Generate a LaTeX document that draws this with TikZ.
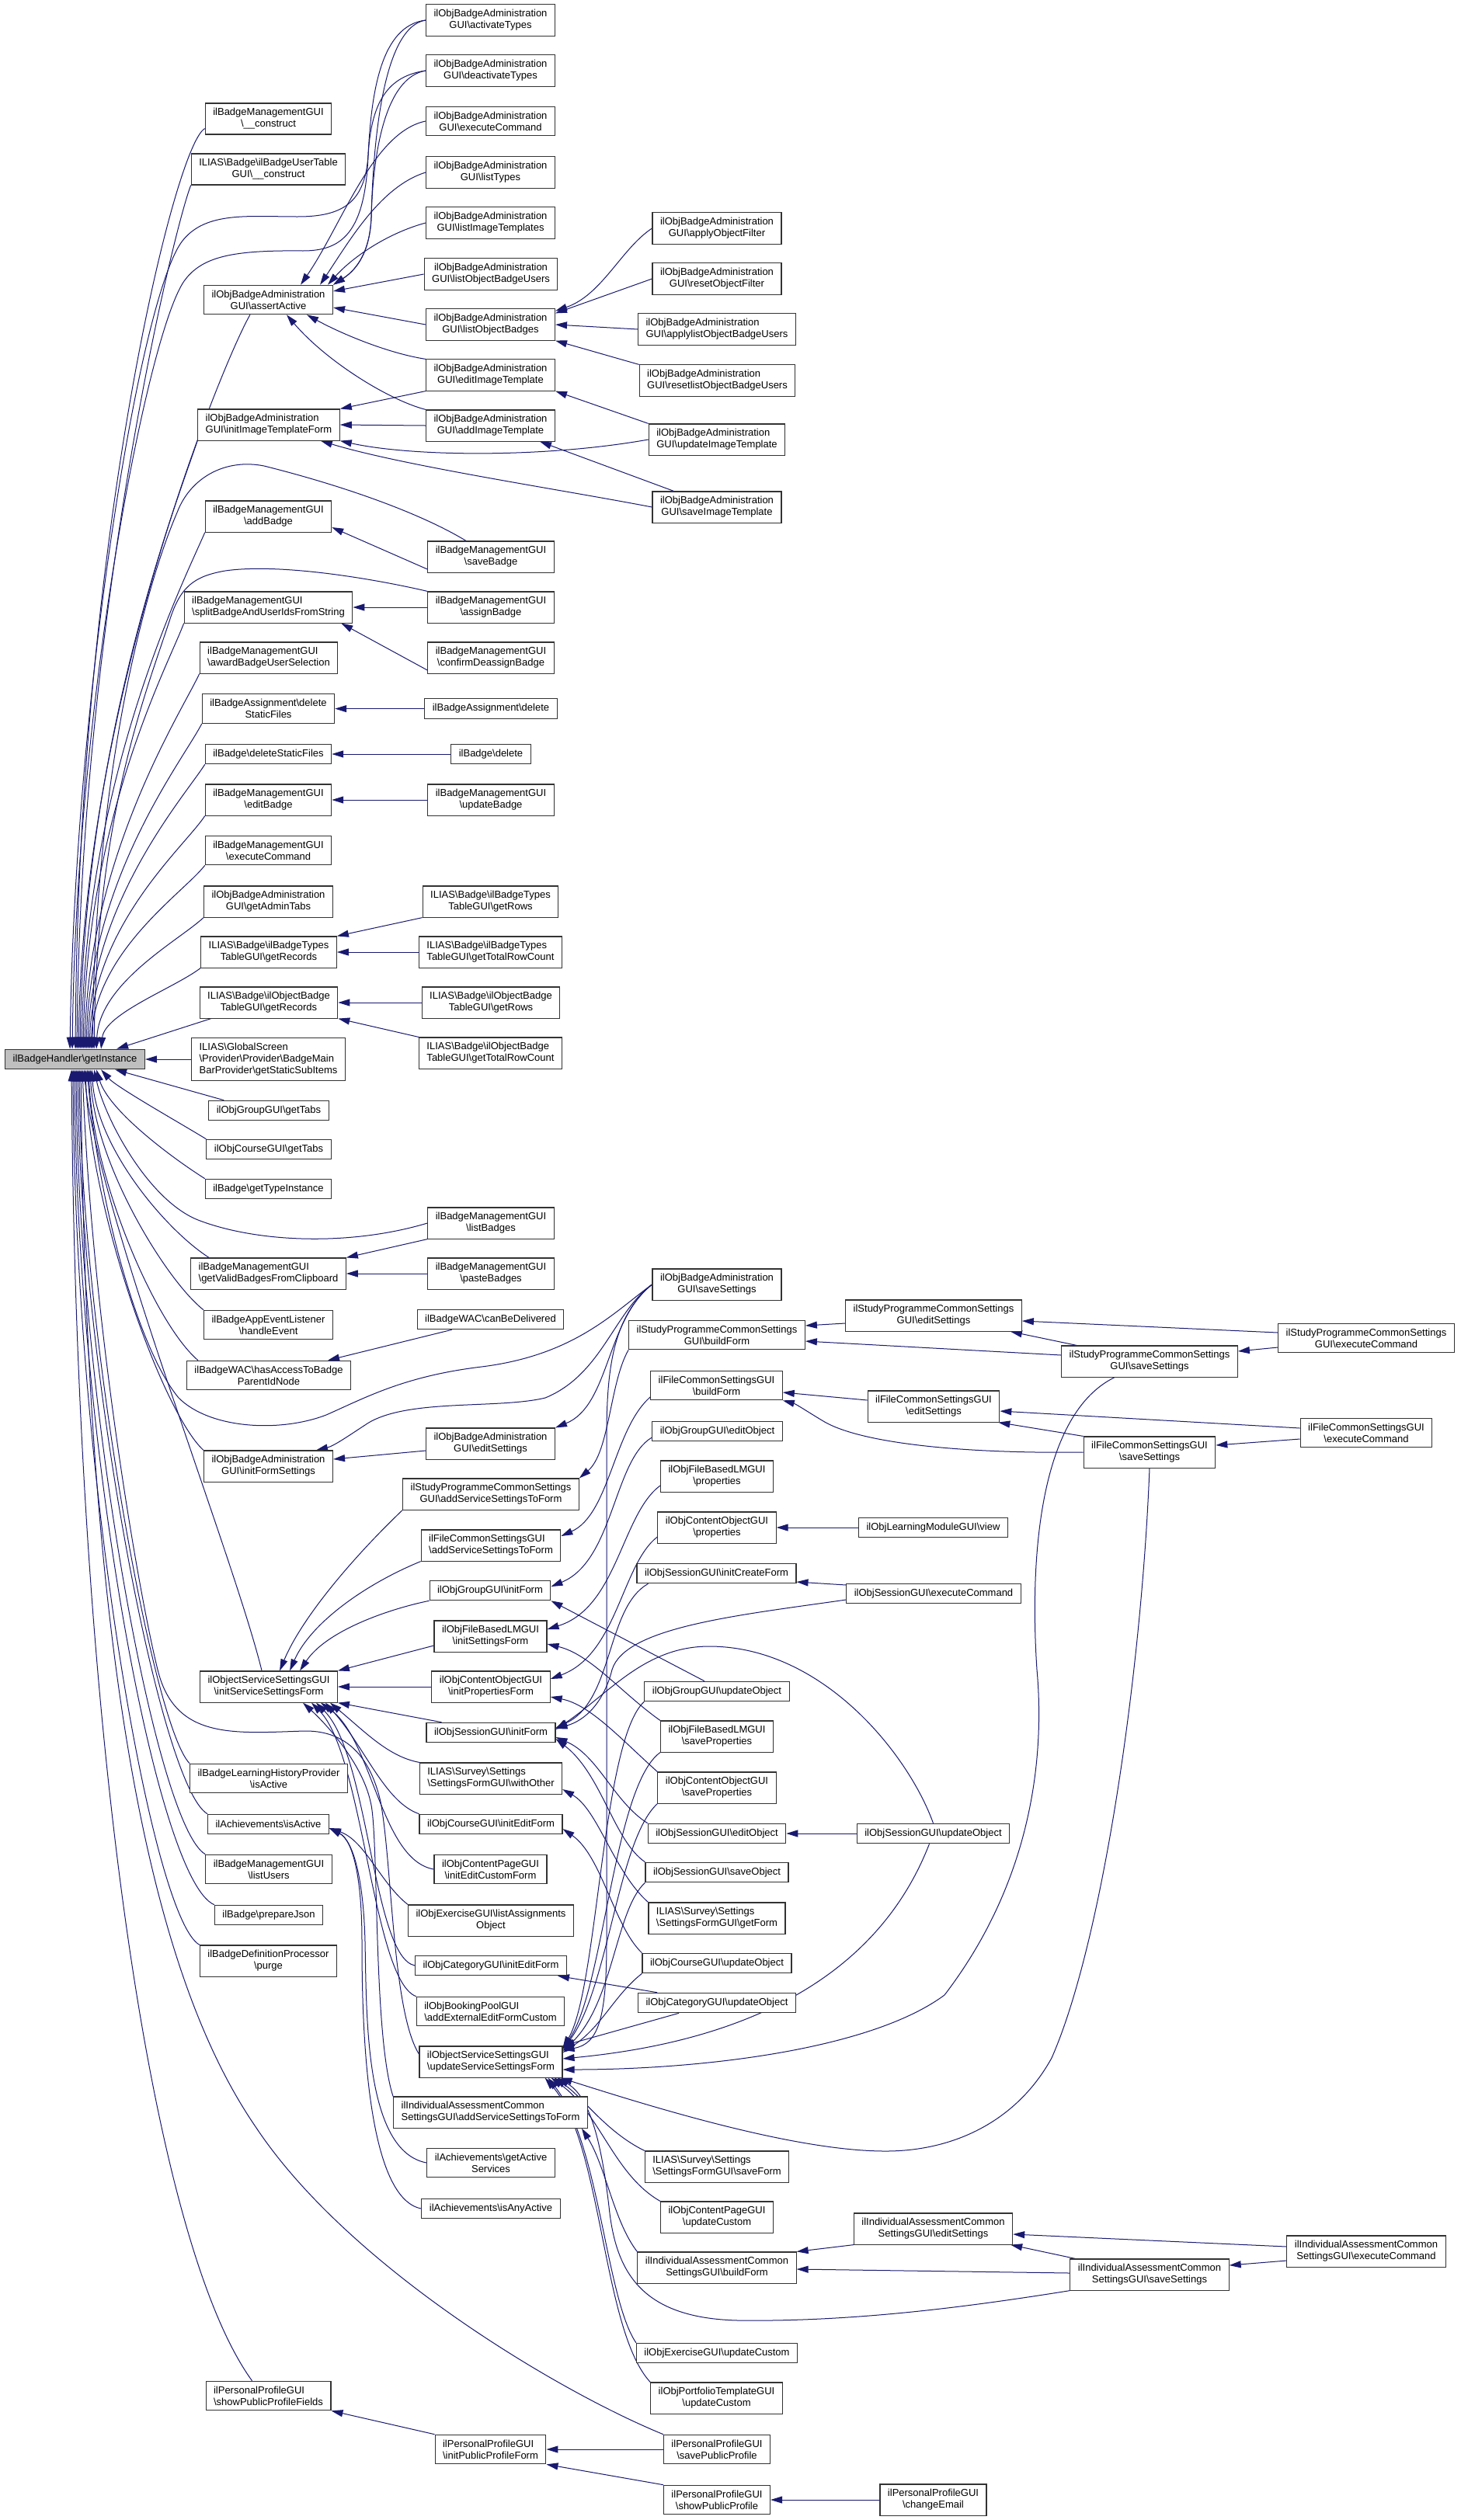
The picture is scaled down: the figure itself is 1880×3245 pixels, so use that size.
\documentclass[tikz,border=0pt]{standalone}
\usepackage{fontspec}
\setmainfont{Liberation Sans}
\usetikzlibrary{arrows.meta}
\pgfdeclarelayer{background}
\pgfsetlayers{background,main}
\definecolor{edgeblue}{RGB}{25,25,112}
\definecolor{nodegray}{RGB}{191,191,191}
\newcommand{\bsl}{\textbackslash}
\begin{document}
\begin{tikzpicture}[x=1pt,y=-1pt,
  fn/.style={draw=black!80, line width=1.1pt, fill=white, font=\fontsize{13pt}{15pt}\selectfont,
    inner xsep=10pt, inner ysep=6.5pt, minimum height=25.5pt, align=center},
  lft/.style={align=left},
  calls/.style={draw=edgeblue, line width=1pt, -{Triangle[length=15pt,width=9pt]}}]
\useasboundingbox (0,0) rectangle (1880,3245);

% column 0
\node[fn, fill=nodegray] (gi) at (96.5,1364) {ilBadgeHandler\bsl getInstance};

% column 1
\node[fn] (c1) at (345.5,153) {ilBadgeManagementGUI\\\bsl\_\_construct};
\node[fn] (c2) at (345.5,218) {ILIAS\bsl Badge\bsl ilBadgeUserTable\\GUI\bsl\_\_construct};
\node[fn] (c3) at (345.5,386) {ilObjBadgeAdministration\\GUI\bsl assertActive};
\node[fn,lft] (c4) at (346,547) {ilObjBadgeAdministration\\GUI\bsl initImageTemplateForm};
\node[fn] (c5) at (345.5,665) {ilBadgeManagementGUI\\\bsl addBadge};
\node[fn,lft] (c6) at (345.5,782) {ilBadgeManagementGUI\\\bsl splitBadgeAndUserIdsFromString};
\node[fn,lft] (c7) at (346,847) {ilBadgeManagementGUI\\\bsl awardBadgeUserSelection};
\node[fn] (c8) at (345.5,912.6) {ilBadgeAssignment\bsl delete\\StaticFiles};
\node[fn] (c9) at (345.5,971) {ilBadge\bsl deleteStaticFiles};
\node[fn] (c10) at (345.5,1030) {ilBadgeManagementGUI\\\bsl editBadge};
\node[fn] (c11) at (345.5,1095) {ilBadgeManagementGUI\\\bsl executeCommand};
\node[fn] (c12) at (345.5,1161) {ilObjBadgeAdministration\\GUI\bsl getAdminTabs};
\node[fn] (c13) at (346,1226) {ILIAS\bsl Badge\bsl ilBadgeTypes\\TableGUI\bsl getRecords};
\node[fn] (c14) at (346,1291) {ILIAS\bsl Badge\bsl ilObjectBadge\\TableGUI\bsl getRecords};
\node[fn,lft] (c15) at (345.5,1364) {ILIAS\bsl GlobalScreen\\\bsl Provider\bsl Provider\bsl BadgeMain\\BarProvider\bsl getStaticSubItems};
\node[fn] (c16) at (346,1430) {ilObjGroupGUI\bsl getTabs};
\node[fn] (c17) at (346,1480) {ilObjCourseGUI\bsl getTabs};
\node[fn] (c18) at (345.5,1531) {ilBadge\bsl getTypeInstance};
\node[fn,lft] (c19) at (345.5,1640) {ilBadgeManagementGUI\\\bsl getValidBadgesFromClipboard};
\node[fn] (c20) at (345.5,1706) {ilBadgeAppEventListener\\\bsl handleEvent};
\node[fn] (c21) at (346,1771) {ilBadgeWAC\bsl hasAccessToBadge\\ParentIdNode};
\node[fn] (c22) at (345.5,1888) {ilObjBadgeAdministration\\GUI\bsl initFormSettings};
\node[fn] (c23) at (346,2172) {ilObjectServiceSettingsGUI\\\bsl initServiceSettingsForm};
\node[fn] (c24) at (346,2290) {ilBadgeLearningHistoryProvider\\\bsl isActive};
\node[fn] (c25) at (345.5,2349) {ilAchievements\bsl isActive};
\node[fn] (c26) at (346,2407) {ilBadgeManagementGUI\\\bsl listUsers};
\node[fn] (c27) at (346,2466) {ilBadge\bsl prepareJson};
\node[fn] (c28) at (345.5,2525) {ilBadgeDefinitionProcessor\\\bsl purge};
\node[fn,lft] (c29) at (345.5,3085) {ilPersonalProfileGUI\\\bsl showPublicProfileFields};

% column 2
\node[fn] (d1) at (631.5,26) {ilObjBadgeAdministration\\GUI\bsl activateTypes};
\node[fn] (d2) at (631.5,91) {ilObjBadgeAdministration\\GUI\bsl deactivateTypes};
\node[fn] (d3) at (631.5,156) {ilObjBadgeAdministration\\GUI\bsl executeCommand};
\node[fn] (d4) at (631.5,222) {ilObjBadgeAdministration\\GUI\bsl listTypes};
\node[fn] (d5) at (631.5,287) {ilObjBadgeAdministration\\GUI\bsl listImageTemplates};
\node[fn] (d6) at (632,353) {ilObjBadgeAdministration\\GUI\bsl listObjectBadgeUsers};
\node[fn] (d7) at (631.5,418) {ilObjBadgeAdministration\\GUI\bsl listObjectBadges};
\node[fn] (d8) at (631.5,483) {ilObjBadgeAdministration\\GUI\bsl editImageTemplate};
\node[fn] (d9) at (631.5,548) {ilObjBadgeAdministration\\GUI\bsl addImageTemplate};
\node[fn] (d10) at (632,717) {ilBadgeManagementGUI\\\bsl saveBadge};
\node[fn] (d11) at (632,782) {ilBadgeManagementGUI\\\bsl assignBadge};
\node[fn] (d12) at (632,847) {ilBadgeManagementGUI\\\bsl confirmDeassignBadge};
\node[fn] (d13) at (632,912.6) {ilBadgeAssignment\bsl delete};
\node[fn] (d14) at (632,971) {ilBadge\bsl delete};
\node[fn] (d15) at (632,1030) {ilBadgeManagementGUI\\\bsl updateBadge};
\node[fn] (d16) at (631.5,1161) {ILIAS\bsl Badge\bsl ilBadgeTypes\\TableGUI\bsl getRows};
\node[fn,lft] (d17) at (631.5,1226) {ILIAS\bsl Badge\bsl ilBadgeTypes\\TableGUI\bsl getTotalRowCount};
\node[fn] (d18) at (632,1291) {ILIAS\bsl Badge\bsl ilObjectBadge\\TableGUI\bsl getRows};
\node[fn,lft] (d19) at (631.5,1356) {ILIAS\bsl Badge\bsl ilObjectBadge\\TableGUI\bsl getTotalRowCount};
\node[fn] (d20) at (632,1575) {ilBadgeManagementGUI\\\bsl listBadges};
\node[fn] (d21) at (632,1640) {ilBadgeManagementGUI\\\bsl pasteBadges};
\node[fn] (d22) at (631.5,1699) {ilBadgeWAC\bsl canBeDelivered};
\node[fn] (d23) at (631.5,1859) {ilObjBadgeAdministration\\GUI\bsl editSettings};
\node[fn] (d24) at (632,1924) {ilStudyProgrammeCommonSettings\\GUI\bsl addServiceSettingsToForm};
\node[fn,lft] (d25) at (632,1990) {ilFileCommonSettingsGUI\\\bsl addServiceSettingsToForm};
\node[fn] (d26) at (631,2048) {ilObjGroupGUI\bsl initForm};
\node[fn] (d27) at (631.5,2107) {ilObjFileBasedLMGUI\\\bsl initSettingsForm};
\node[fn] (d28) at (632,2172) {ilObjContentObjectGUI\\\bsl initPropertiesForm};
\node[fn] (d29) at (632,2231) {ilObjSessionGUI\bsl initForm};
\node[fn,lft] (d30) at (632,2290) {ILIAS\bsl Survey\bsl Settings\\\bsl SettingsFormGUI\bsl withOther};
\node[fn] (d31) at (632,2349) {ilObjCourseGUI\bsl initEditForm};
\node[fn] (d32) at (631.5,2407) {ilObjContentPageGUI\\\bsl initEditCustomForm};
\node[fn] (d33) at (632,2473) {ilObjExerciseGUI\bsl listAssignments\\Object};
\node[fn] (d34) at (632,2531) {ilObjCategoryGUI\bsl initEditForm};
\node[fn,lft] (d35) at (631.5,2590) {ilObjBookingPoolGUI\\\bsl addExternalEditFormCustom};
\node[fn,lft] (d36) at (632,2655) {ilObjectServiceSettingsGUI\\\bsl updateServiceSettingsForm};
\node[fn,lft] (d37) at (631.5,2720) {ilIndividualAssessmentCommon\\SettingsGUI\bsl addServiceSettingsToForm};
\node[fn] (d38) at (632,2785) {ilAchievements\bsl getActive\\Services};
\node[fn] (d39) at (632,2844) {ilAchievements\bsl isAnyActive};
\node[fn,lft] (d40) at (631.5,3154) {ilPersonalProfileGUI\\\bsl initPublicProfileForm};

% column 3
\node[fn] (e1) at (923,294) {ilObjBadgeAdministration\\GUI\bsl applyObjectFilter};
\node[fn] (e2) at (923,359) {ilObjBadgeAdministration\\GUI\bsl resetObjectFilter};
\node[fn,lft] (e3) at (923,424) {ilObjBadgeAdministration\\GUI\bsl applylistObjectBadgeUsers};
\node[fn,lft] (e4) at (923.5,490) {ilObjBadgeAdministration\\GUI\bsl resetlistObjectBadgeUsers};
\node[fn,lft] (e5) at (923,566) {ilObjBadgeAdministration\\GUI\bsl updateImageTemplate};
\node[fn] (e6) at (923,653) {ilObjBadgeAdministration\\GUI\bsl saveImageTemplate};
\node[fn] (e7) at (923,1654) {ilObjBadgeAdministration\\GUI\bsl saveSettings};
\node[fn] (e8) at (923,1719) {ilStudyProgrammeCommonSettings\\GUI\bsl buildForm};
\node[fn] (e9) at (922.5,1784) {ilFileCommonSettingsGUI\\\bsl buildForm};
\node[fn] (e10) at (923.5,1843) {ilObjGroupGUI\bsl editObject};
\node[fn] (e11) at (923,1901) {ilObjFileBasedLMGUI\\\bsl properties};
\node[fn] (e12) at (923,1967) {ilObjContentObjectGUI\\\bsl properties};
\node[fn] (e13) at (922.5,2026) {ilObjSessionGUI\bsl initCreateForm};
\node[fn] (e14) at (923,2178) {ilObjGroupGUI\bsl updateObject};
\node[fn] (e15) at (923,2236) {ilObjFileBasedLMGUI\\\bsl saveProperties};
\node[fn] (e16) at (923,2302) {ilObjContentObjectGUI\\\bsl saveProperties};
\node[fn] (e17) at (923,2361) {ilObjSessionGUI\bsl editObject};
\node[fn] (e18) at (923,2411) {ilObjSessionGUI\bsl saveObject};
\node[fn,lft] (e19) at (923,2470) {ILIAS\bsl Survey\bsl Settings\\\bsl SettingsFormGUI\bsl getForm};
\node[fn] (e20) at (923,2528) {ilObjCourseGUI\bsl updateObject};
\node[fn] (e21) at (923,2579) {ilObjCategoryGUI\bsl updateObject};
\node[fn,lft] (e22) at (923,2790) {ILIAS\bsl Survey\bsl Settings\\\bsl SettingsFormGUI\bsl saveForm};
\node[fn] (e23) at (923,2855) {ilObjContentPageGUI\\\bsl updateCustom};
\node[fn] (e24) at (923,2920) {ilIndividualAssessmentCommon\\SettingsGUI\bsl buildForm};
\node[fn] (e25) at (923,3030) {ilObjExerciseGUI\bsl updateCustom};
\node[fn] (e26) at (922.5,3088) {ilObjPortfolioTemplateGUI\\\bsl updateCustom};
\node[fn] (e27) at (923,3154) {ilPersonalProfileGUI\\\bsl savePublicProfile};
\node[fn] (e28) at (923,3219) {ilPersonalProfileGUI\\\bsl showPublicProfile};

% column 4
\node[fn] (f1) at (1202,1694) {ilStudyProgrammeCommonSettings\\GUI\bsl editSettings};
\node[fn] (f2) at (1480,1753) {ilStudyProgrammeCommonSettings\\GUI\bsl saveSettings};
\node[fn] (f3) at (1202,1811) {ilFileCommonSettingsGUI\\\bsl editSettings};
\node[fn] (f4) at (1480,1870) {ilFileCommonSettingsGUI\\\bsl saveSettings};
\node[fn] (f5) at (1201.5,1967) {ilObjLearningModuleGUI\bsl view};
\node[fn] (f6) at (1202,2052) {ilObjSessionGUI\bsl executeCommand};
\node[fn] (f7) at (1201.5,2361) {ilObjSessionGUI\bsl updateObject};
\node[fn] (f8) at (1201.5,2870) {ilIndividualAssessmentCommon\\SettingsGUI\bsl editSettings};
\node[fn] (f9) at (1480,2929) {ilIndividualAssessmentCommon\\SettingsGUI\bsl saveSettings};
\node[fn] (f10) at (1201.5,3219) {ilPersonalProfileGUI\\\bsl changeEmail};

% column 5
\node[fn] (g1) at (1759,1723) {ilStudyProgrammeCommonSettings\\GUI\bsl executeCommand};
\node[fn] (g2) at (1759,1845) {ilFileCommonSettingsGUI\\\bsl executeCommand};
\node[fn] (g3) at (1759,2899) {ilIndividualAssessmentCommon\\SettingsGUI\bsl executeCommand};

\begin{pgfonlayer}{background}
\fill[white] (0,0) rectangle (1880,3245);
% ---- callers above getInstance
\draw[calls] (d1.west) .. controls (490,33) and (478,120) .. (474,200) .. controls (470,262) and (440,279) .. (383,279) .. controls (320,279) and (265,272) .. (235,310) .. controls (180,380) and (96,900) .. ([xshift=84pt]gi.north west);
\draw[calls] (d2.west) .. controls (500,98) and (478,130) .. (474,200) .. controls (470,300) and (440,323) .. (390,323) .. controls (300,322) and (260,330) .. (237,362) .. controls (190,430) and (98,900) .. ([xshift=87pt]gi.north west);
\draw[calls] ([yshift=8pt]c1.south west) .. controls (225,185) and (100,700) .. ([xshift=91pt]gi.north west);
\draw[calls] (c2.south west) .. controls (222,300) and (103,800) .. ([xshift=93pt]gi.north west);
\draw[calls] ([xshift=60pt]c3.south west) .. controls (290,460) and (106,900) .. ([xshift=95pt]gi.north west);
\draw[calls] (c4.south west) .. controls (230,640) and (108,950) .. ([xshift=97pt]gi.north west);
\draw[calls] (c5.south west) .. controls (236,750) and (110,1000) .. ([xshift=99pt]gi.north west);
\draw[calls] (c6.south west) .. controls (215,860) and (112,1050) .. ([xshift=101pt]gi.north west);
\draw[calls] (c7.south west) .. controls (235,915) and (114,1100) .. ([xshift=103pt]gi.north west);
\draw[calls] (c8.south west) .. controls (235,980) and (116,1130) .. ([xshift=105pt]gi.north west);
\draw[calls] (c9.south west) .. controls (238,1025) and (118,1160) .. ([xshift=107pt]gi.north west);
\draw[calls] (c10.south west) .. controls (238,1090) and (120,1190) .. ([xshift=109pt]gi.north west);
\draw[calls] (c11.south west) .. controls (236,1150) and (122,1225) .. ([xshift=111pt]gi.north west);
\draw[calls] ([xshift=-32pt]d10.north) .. controls (540,660) and (440,625) .. (340,600) .. controls (290,590) and (245,615) .. (228,660) .. controls (185,760) and (122,1000) .. ([xshift=113pt]gi.north west);
\draw[calls] (d11.north west) .. controls (480,745) and (360,725) .. (290,735) .. controls (250,742) and (232,755) .. (218,800) .. controls (185,900) and (125,1050) .. ([xshift=115pt]gi.north west);
\draw[calls] (c12.south west) .. controls (232,1210) and (128,1265) .. ([xshift=118pt]gi.north west);
\draw[calls] (c13.south west) .. controls (225,1272) and (135,1305) .. ([xshift=124pt]gi.north west);
\draw[calls] ([xshift=15pt]c14.south west) -- ([xshift=144pt]gi.north west);
\draw[calls] (c15.west) -- (gi.east);
% ---- callers below getInstance
\draw[calls] ([xshift=20pt]c16.north west) -- ([xshift=142pt]gi.south west);
\draw[calls] (c17.north west) .. controls (230,1445) and (150,1400) .. ([xshift=124pt]gi.south west);
\draw[calls] (c18.north west) .. controls (220,1490) and (140,1430) .. ([xshift=118pt]gi.south west);
\draw[calls] (d20.west) .. controls (450,1605) and (330,1600) .. (255,1571) .. controls (190,1545) and (135,1440) .. ([xshift=115pt]gi.south west);
\draw[calls] ([xshift=24pt]c19.north west) .. controls (215,1585) and (125,1480) .. ([xshift=112pt]gi.south west);
\draw[calls] (c20.north west) .. controls (215,1650) and (122,1500) .. ([xshift=110pt]gi.south west);
\draw[calls] ([xshift=15pt]c21.north west) .. controls (200,1705) and (120,1520) .. ([xshift=108pt]gi.south west);
\draw[calls] (e7.west) .. controls (790,1690) and (740,1745) .. (620,1760) .. controls (520,1772) and (470,1800) .. (420,1822) .. controls (360,1845) and (270,1840) .. (230,1800) .. controls (180,1740) and (128,1560) .. ([xshift=106pt]gi.south west);
\draw[calls] (c22.north west) .. controls (210,1820) and (116,1560) .. ([xshift=104pt]gi.south west);
\draw[calls] ([xshift=80pt]c23.north west) .. controls (300,2000) and (125,1560) .. ([xshift=102pt]gi.south west);
\draw[calls] ([yshift=10pt]d36.west) .. controls (505,2590) and (505,2400) .. (490,2320) .. controls (475,2255) and (440,2228) .. (391,2229) .. controls (300,2232) and (225,2240) .. (203,2150) .. controls (178,2050) and (118,1700) .. ([xshift=100pt]gi.south west);
\draw[calls] (c24.north west) .. controls (195,2220) and (104,1700) .. ([xshift=96pt]gi.south west);
\draw[calls] (c25.north west) .. controls (205,2300) and (102,1750) .. ([xshift=94pt]gi.south west);
\draw[calls] (c26.north west) .. controls (200,2350) and (100,1800) .. ([xshift=92pt]gi.south west);
\draw[calls] (c27.north west) .. controls (200,2420) and (98,1850) .. ([xshift=90pt]gi.south west);
\draw[calls] (c28.north west) .. controls (195,2470) and (96,1900) .. ([xshift=88pt]gi.south west);
\draw[calls] (e27.north west) .. controls (720,3080) and (450,2920) .. (330,2740) .. controls (220,2580) and (112,2250) .. ([xshift=98pt]gi.south west);
\draw[calls] ([xshift=60pt]c29.north west) .. controls (190,2880) and (98,2200) .. ([xshift=86pt]gi.south west);

% ---- assertActive
\draw[calls] (d1.west) .. controls (490,35) and (480,200) .. (478,280) .. controls (476,330) and (455,350) .. (c3.north east);
\draw[calls] (d2.west) .. controls (495,100) and (480,200) .. (478,280) .. controls (476,330) and (455,350) .. (c3.north east);
\draw[calls] (d3.west) .. controls (480,170) and (440,290) .. ([xshift=-42pt]c3.north east);
\draw[calls] (d4.west) .. controls (490,240) and (450,310) .. ([xshift=-17pt]c3.north east);
\draw[calls] (d5.west) .. controls (500,300) and (455,330) .. ([xshift=-7pt]c3.north east);
\draw[calls] (d6.west) -- ([yshift=11pt]c3.east);
\draw[calls] (d7.west) -- ([yshift=-10pt]c3.east);
\draw[calls] (d8.north west) .. controls (500,455) and (440,430) .. ([xshift=-34pt]c3.south east);
\draw[calls] (d9.north west) .. controls (500,515) and (420,465) .. ([xshift=-60pt]c3.south east);
% ---- initImageTemplateForm
\draw[calls] (d8.south west) -- (c4.north east);
\draw[calls] (d9.west) -- (c4.east);
\draw[calls] (e5.west) .. controls (700,590) and (530,588) .. (c4.south east);
\draw[calls] (e6.west) .. controls (720,630) and (520,600) .. ([xshift=-25pt]c4.south east);
\draw[calls] (e5.north west) -- (d8.south east);
\draw[calls] ([xshift=28pt]e6.north west) -- ([xshift=-20pt]d9.south east);
% ---- listObjectBadges
\draw[calls] (e1.west) .. controls (800,320) and (775,380) .. ([yshift=-3pt]d7.north east);
\draw[calls] (e2.west) -- ([yshift=-6pt]d7.north east);
\draw[calls] (e3.west) -- (d7.east);
\draw[calls] (e4.north west) -- (d7.south east);
% ---- badge management
\draw[calls] ([yshift=-16pt]d10.west) -- ([yshift=-14pt]c5.east);
\draw[calls] (d11.west) -- (c6.east);
\draw[calls] ([yshift=-16pt]d12.west) -- ([xshift=-15pt]c6.south east);
\draw[calls] (d13.west) -- (c8.east);
\draw[calls] (d14.west) -- (c9.east);
\draw[calls] (d15.west) -- (c10.east);
\draw[calls] (d16.south west) -- (c13.north east);
\draw[calls] (d17.west) -- (c13.east);
\draw[calls] (d18.west) -- (c14.east);
\draw[calls] (d19.north west) -- (c14.south east);
\draw[calls] (d20.south west) -- (c19.north east);
\draw[calls] (d21.west) -- (c19.east);
\draw[calls] ([xshift=45pt]d22.south west) -- ([xshift=-30pt]c21.north east);
\draw[calls] ([yshift=-9pt]d23.west) -- ([yshift=9pt]c22.east);
\draw[calls] (e7.west) .. controls (790,1690) and (775,1770) .. (702,1800) .. controls (640,1815) and (520,1800) .. (470,1835) .. controls (450,1848) and (430,1862) .. ([xshift=-22pt]c22.north east);
\draw[calls] (e7.west) .. controls (780,1700) and (785,1810) .. (d23.north east);
\draw[calls] (e7.west) .. controls (790,1695) and (781,1760) .. (781,1850) -- (781,2500) .. controls (781,2600) and (770,2632) .. ([yshift=15pt]d36.east);

% ---- initServiceSettingsForm
\draw[calls] (d24.south west) .. controls (460,2000) and (390,2080) .. ([xshift=103pt]c23.north west);
\draw[calls] (d25.south west) .. controls (470,2040) and (400,2090) .. ([xshift=116pt]c23.north west);
\draw[calls] (d26.south west) .. controls (500,2072) and (420,2100) .. ([xshift=129pt]c23.north west);
\draw[calls] ([yshift=-12pt]d27.west) -- (c23.north east);
\draw[calls] (d28.west) -- (c23.east);
\draw[calls] ([xshift=20pt]d29.north west) -- (c23.south east);
\draw[calls] (d30.north west) .. controls (500,2262) and (470,2230) .. ([xshift=-10pt]c23.south east);
\draw[calls] (d31.north west) .. controls (495,2320) and (470,2250) .. ([xshift=-16pt]c23.south east);
\draw[calls] (d32.west) .. controls (490,2395) and (480,2240) .. ([xshift=-22pt]c23.south east);
\draw[calls] (d34.west) .. controls (480,2520) and (475,2260) .. ([xshift=-28pt]c23.south east);
\draw[calls] (d35.north west) .. controls (480,2550) and (468,2260) .. ([xshift=-34pt]c23.south east);
\draw[calls] (d37.north west) .. controls (480,2620) and (488,2360) .. (477,2320) .. controls (466,2270) and (420,2220) .. ([xshift=-45pt]c23.south east);
% ---- ilAchievements isActive
\draw[calls] (d33.north west) .. controls (490,2425) and (470,2370) .. ([yshift=-5pt]c25.east);
\draw[calls] (d38.west) .. controls (470,2770) and (472,2600) .. (470,2500) .. controls (468,2420) and (455,2370) .. ([yshift=-5pt]c25.east);
\draw[calls] (d39.west) .. controls (470,2830) and (466,2600) .. (466,2500) .. controls (466,2420) and (455,2370) .. ([yshift=-5pt]c25.east);
% ---- personal profile
\draw[calls] (d40.north west) -- (c29.south east);
\draw[calls] (e27.west) -- (d40.east);
\draw[calls] (e28.north west) -- (d40.south east);
\draw[calls] (f10.west) -- (e28.east);

% ---- column 3 to column 2
\draw[calls] (e8.south west) .. controls (785,1780) and (785,1870) .. (d24.north east);
\draw[calls] ([yshift=-15pt]e9.west) .. controls (790,1840) and (785,1950) .. ([yshift=12pt]d25.east);
\draw[calls] ([yshift=-8pt]e10.west) .. controls (790,1880) and (790,2010) .. ([yshift=5pt]d26.east);
\draw[calls] ([yshift=-12pt]e11.west) .. controls (800,1950) and (795,2070) .. ([yshift=9pt]d27.east);
\draw[calls] ([yshift=-12pt]e12.west) .. controls (800,2015) and (795,2130) .. ([yshift=10pt]d28.east);
\draw[calls] ([xshift=15pt]e13.south west) .. controls (780,2070) and (790,2190) .. ([yshift=6pt]d29.east);
\draw[calls] ([yshift=-8pt]f6.west) .. controls (950,2080) and (805,2095) .. (788,2150) .. controls (778,2190) and (755,2215) .. ([yshift=5pt]d29.east);
\draw[calls] (f7.north) .. controls (1170,2260) and (1060,2120) .. (913,2120) .. controls (830,2120) and (785,2180) .. ([yshift=4pt]d29.east);
\draw[calls] ([xshift=-16pt]e14.north) -- (d26.south east);
\draw[calls] (e15.north west) .. controls (800,2180) and (760,2130) .. ([yshift=-10pt]d27.east);
\draw[calls] (e16.north west) .. controls (800,2240) and (760,2195) .. ([yshift=-13pt]d28.east);
\draw[calls] (e17.north west) .. controls (790,2320) and (770,2260) .. ([yshift=-6pt]d29.east);
\draw[calls] (e18.north west) .. controls (790,2370) and (775,2285) .. ([yshift=-8pt]d29.east);
\draw[calls] (f7.west) -- (e17.east);
\draw[calls] (e19.north west) .. controls (790,2410) and (770,2330) .. ([yshift=-14pt]d30.east);
\draw[calls] (e20.north west) .. controls (790,2480) and (775,2390) .. ([yshift=-6pt]d31.east);
\draw[calls] ([xshift=25pt]e21.north west) -- ([xshift=-12pt]d34.south east);

% ---- updateServiceSettingsForm
\draw[calls] (e14.south west) .. controls (775,2240) and (770,2560) .. ([yshift=18pt]d36.east);
\draw[calls] (e15.south west) .. controls (790,2300) and (778,2560) .. ([yshift=17pt]d36.east);
\draw[calls] (e16.south west) .. controls (795,2370) and (784,2560) .. ([yshift=16pt]d36.east);
\draw[calls] (e18.south west) .. controls (792,2460) and (790,2580) .. ([yshift=14pt]d36.east);
\draw[calls] (e20.south west) .. controls (790,2570) and (775,2610) .. ([yshift=12pt]d36.east);
\draw[calls] ([xshift=53pt]e21.south west) -- (d36.north east);
\draw[calls] ([xshift=-5pt]f7.south) .. controls (1140,2520) and (1000,2625) .. ([yshift=4pt]d36.east);
\draw[calls] ([xshift=-45pt]f2.south) .. controls (1340,1820) and (1325,2000) .. (1335,2150) .. controls (1345,2260) and (1330,2420) .. (1216,2569) .. controls (1120,2640) and (900,2665) .. ([yshift=-10pt]d36.east);
\draw[calls] (f4.south) .. controls (1470,2150) and (1420,2500) .. (1354,2650) .. controls (1310,2730) and (1230,2770) .. (1140,2770) .. controls (1020,2770) and (830,2710) .. ([xshift=-3pt]d36.south east);
\draw[calls] (f9.south west) .. controls (1250,2970) and (1100,2990) .. (950,2988) .. controls (830,2985) and (795,2930) .. (785,2850) .. controls (775,2760) and (760,2700) .. ([xshift=-7pt]d36.south east);
\draw[calls] (e22.north west) .. controls (780,2745) and (750,2700) .. ([xshift=-11pt]d36.south east);
\draw[calls] (e23.north west) .. controls (790,2800) and (772,2720) .. ([xshift=-15pt]d36.south east);
\draw[calls] (e25.north west) .. controls (780,2960) and (772,2760) .. ([xshift=-19pt]d36.south east);
\draw[calls] (e26.north west) .. controls (775,3000) and (776,2760) .. ([xshift=-23pt]d36.south east);
\draw[calls] (e24.north west) .. controls (790,2860) and (780,2790) .. ([xshift=-8pt]d37.south east);

% ---- study programme
\draw[calls] ([yshift=-10pt]f1.west) -- ([yshift=12pt]e8.east);
\draw[calls] ([yshift=8pt]f2.west) -- ([yshift=-8pt]e8.east);
\draw[calls] ([xshift=20pt]f2.north west) -- ([xshift=-15pt]f1.south east);
\draw[calls] ([yshift=7pt]g1.west) -- ([yshift=-7pt]f1.east);
\draw[calls] ([yshift=-12pt]g1.west) -- ([yshift=13pt]f2.east);
% ---- file common
\draw[calls] ([yshift=8pt]f3.west) -- ([yshift=-9pt]e9.east);
\draw[calls] (f4.west) .. controls (1250,1872) and (1110,1860) .. (1060,1830) .. controls (1040,1818) and (1025,1808) .. (e9.south east);
\draw[calls] (f4.north west) -- ([xshift=-2pt]f3.south east);
\draw[calls] ([yshift=6pt]g2.west) -- ([yshift=-6pt]f3.east);
\draw[calls] ([yshift=-8pt]g2.west) -- ([yshift=9pt]f4.east);
% ---- misc
\draw[calls] (f5.west) -- (e12.east);
\draw[calls] ([yshift=11pt]f6.west) -- ([yshift=-11pt]e13.east);
% ---- individual assessment
\draw[calls] (f8.south west) -- (e24.north east);
\draw[calls] ([yshift=2pt]f9.west) -- ([yshift=-2pt]e24.east);
\draw[calls] ([xshift=7pt]f9.north west) -- ([xshift=-3pt]f8.south east);
\draw[calls] ([yshift=6pt]g3.west) -- ([yshift=-7pt]f8.east);
\draw[calls] ([yshift=-12pt]g3.west) -- ([yshift=12pt]f9.east);
\end{pgfonlayer}
\end{tikzpicture}
\end{document}
